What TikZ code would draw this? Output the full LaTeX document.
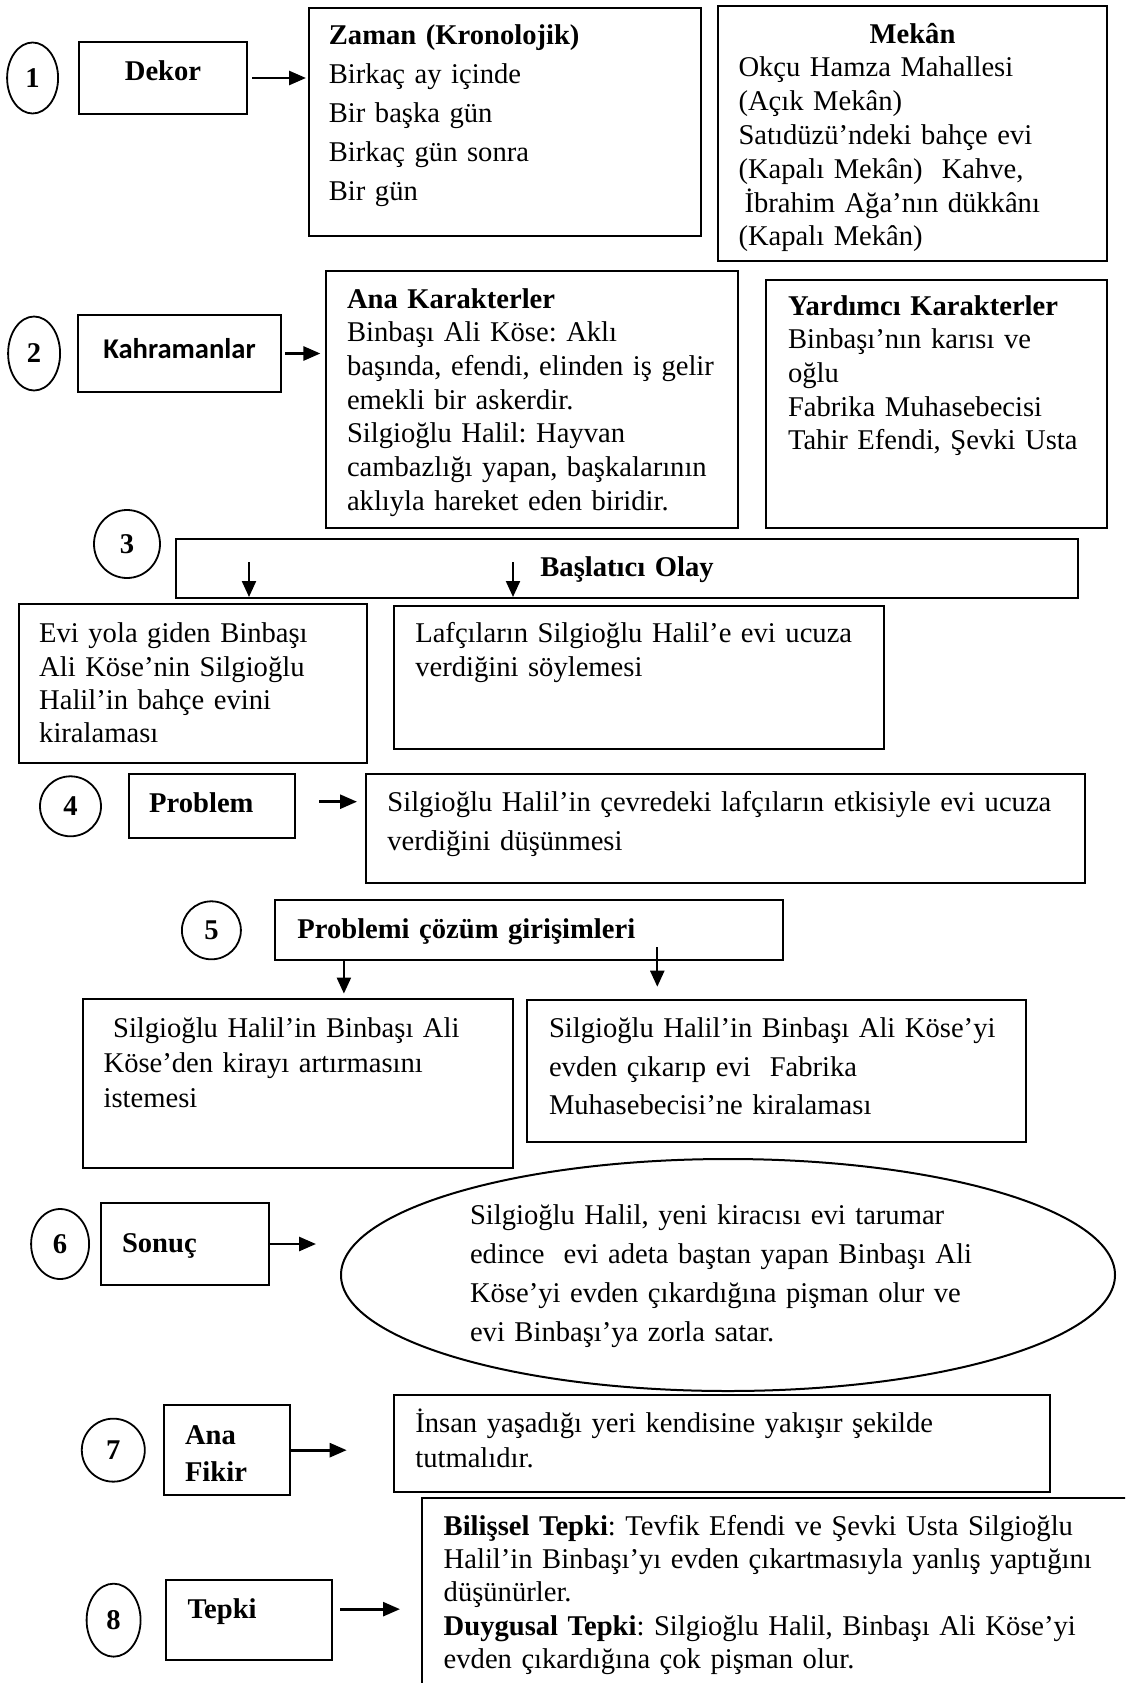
\documentclass[tikz,border=0pt]{standalone}
\usepackage{fontspec}
\setmainfont{Liberation Serif}
\newfontfamily\calibri{Carlito}
\usepackage{tikz}
\usetikzlibrary{shapes, arrows.meta, positioning}
\newcommand{\txtsize}[1]{\fontsize{28.6pt}{#1pt}\selectfont\frenchspacing}

\begin{document}
\begin{tikzpicture}[
            x=1pt, y=-1pt,
            font=\txtsize{33.8},
            box/.style={rectangle, draw, line width=2pt, anchor=north west, inner ysep=0pt, align=left,
                        execute at begin node={\rightskip=0pt plus 1fil minus 40pt}},
            lbl/.style={box, font=\txtsize{36.7}\bfseries},
            ctr/.style={rectangle, draw, line width=2pt, anchor=north west, inner ysep=0pt, inner xsep=10pt, align=center,
                        font=\txtsize{36.7}\bfseries},
            num/.style={ellipse, draw, line width=1.8pt, inner sep=0pt, font=\txtsize{33.8}\bfseries},
            arrow/.style={line width=2.7pt, -{Triangle[length=17pt, width=14pt]}},
            down/.style={line width=2.2pt, -{Triangle[length=16pt, width=14pt]}}
        ]
            \useasboundingbox (0,0) rectangle (1125,1683);
            \clip (0,0) rectangle (1125,1683);

            \node[ctr, text width=148pt, text height=39.3pt, text depth=33.3pt] (dekor) at (78,40.7) {Dekor};
            \node[num, minimum width=51pt, minimum height=71pt, left=19pt of dekor] (n1) {1};
            \node[box, font=\txtsize{38.9}, inner xsep=20.4pt, text width=351.7pt, text height=36.1pt, text depth=191.4pt] (zaman) at (307.5,7.5)
                {\textbf{Zaman (Kronolojik)}\\Birkaç ay içinde\\Bir başka gün\\Birkaç gün sonra\\Bir gün};
            \node[box, inner xsep=20.5pt, text width=348pt, text height=36.8pt, text depth=217.3pt] (mekan) at (717,5.4)
                {\hfill\textbf{Mekân}\hfill\null\\Okçu Hamza Mahallesi\\(Açık Mekân)\\Satıdüzü’ndeki bahçe evi\\(Kapalı Mekân)\ \ Kahve,\\\hspace*{6pt}İbrahim Ağa’nın dükkânı\\(Kapalı Mekân)};

            \node[ctr, font=\txtsize{36}\calibri\bfseries, text width=183pt, text height=43pt, text depth=34pt] (kahr) at (77,314) {Kahramanlar};
            \node[num, minimum width=52pt, minimum height=74pt, left=16pt of kahr] (n2) {2};
            \node[box, font=\txtsize{33.7}, inner xsep=21pt, text width=370pt, text height=37.5pt, text depth=220pt] (ana) at (325,269.5)
                {\textbf{Ana Karakterler}\\Binbaşı Ali Köse: Aklı\\başında, efendi, elinden iş gelir\\emekli bir askerdir.\\Silgioğlu Halil: Hayvan\\cambazlığı yapan, başkalarının\\aklıyla hareket eden biridir.};
            \node[box, font=\txtsize{33.6}, inner xsep=22pt, text width=297pt, text height=35.7pt, text depth=212.7pt] (yard) at (765,278.6)
                {\textbf{Yardımcı Karakterler}\\Binbaşı’nın karısı ve\\oğlu\\Fabrika Muhasebecisi\\Tahir Efendi, Şevki Usta};

            \node[ctr, text width=882pt, text height=37.2pt, text depth=21.5pt] (olay) at (175,538.3) {Başlatıcı Olay};
            \node[num, minimum width=66pt, minimum height=68pt] (n3) at (127,544) {3};
            \node[box, font=\txtsize{33.3}, inner xsep=20.2pt, text width=307.6pt, text height=39pt, text depth=120pt] (evi) at (18,602.7)
                {Evi yola giden Binbaşı\\Ali Köse’nin Silgioğlu\\Halil’in bahçe evini\\kiralaması};
            \node[box, font=\txtsize{33.5}, inner xsep=21.3pt, text width=446.9pt, text height=36.7pt, text depth=106pt] (laf) at (393,605)
                {Lafçıların Silgioğlu Halil’e evi ucuza\\verdiğini söylemesi};

            \node[lbl, inner xsep=20.7pt, text width=125.1pt, text height=38.4pt, text depth=25.6pt] (prob) at (127.5,773.3) {Problem};
            \node[num, minimum width=61pt, minimum height=60pt, left=25.6pt of prob] (n4) {4};
            \node[box, font=\txtsize{38.5}, inner xsep=21.4pt, text width=676.2pt, text height=37.4pt, text depth=71.6pt] (probtxt) at (365,773.3)
                {Silgioğlu Halil’in çevredeki lafçıların etkisiyle evi ucuza\\verdiğini düşünmesi};

            \node[lbl, inner xsep=22.1pt, text width=463pt, text height=38pt, text depth=22pt] (cozum) at (274.3,899.3) {Problemi çözüm girişimleri};
            \node[num, minimum width=59pt, minimum height=58pt, left=32.5pt of cozum] (n5) {5};
            \node[box, font=\txtsize{35.3}, inner xsep=21pt, text width=388.4pt, text height=38pt, text depth=130.7pt] (sol1) at (81.6,998.3)
                {\ Silgioğlu Halil’in Binbaşı Ali\\Köse’den kirayı artırmasını\\istemesi};
            \node[box, font=\txtsize{38.8}, inner xsep=22pt, text width=455pt, text height=37.3pt, text depth=105pt] (sol2) at (526,999)
                {Silgioğlu Halil’in Binbaşı Ali Köse’yi\\evden çıkarıp evi\ \ Fabrika\\Muhasebecisi’ne kiralaması};

            \node[lbl, inner xsep=21.2pt, text width=126.2pt, text height=49pt, text depth=33pt] (sonuc) at (99.8,1202) {Sonuç};
            \node[num, minimum width=58pt, minimum height=70pt, left=9.8pt of sonuc] (n6) {6};
            \node[ellipse, draw, line width=2pt, inner sep=0pt, minimum width=774pt, minimum height=232pt, align=left,
                  text width=516pt, text height=27pt, text depth=129pt, font=\txtsize{39}] (sonuctxt) at (728,1275)
                {Silgioğlu Halil, yeni kiracısı evi tarumar\\edince\ \ evi adeta baştan yapan Binbaşı Ali\\Köse’yi evden çıkardığına pişman olur ve\\evi Binbaşı’ya zorla satar.};

            \node[lbl, inner xsep=21.3pt, text width=84pt, text height=39.3pt, text depth=51pt] (anafikir) at (162.7,1404) {Ana\\Fikir};
            \node[num, minimum width=63pt, minimum height=63pt, left=17pt of anafikir] (n7) {7};
            \node[box, font=\txtsize{34.5}, inner xsep=21.6pt, text width=613.1pt, text height=37.7pt, text depth=59.3pt] (fikir) at (392.7,1394)
                {İnsan yaşadığı yeri kendisine yakışır şekilde\\tutmalıdır.};

            \node[lbl, inner xsep=22pt, text width=122.6pt, text height=38.3pt, text depth=42pt] (tepki) at (164.7,1579) {Tepki};
            \node[num, minimum width=54pt, minimum height=73pt, left=23.2pt of tepki] (n8) {8};
            \node[box, font=\txtsize{33.4}, inner xsep=22pt, text width=695.3pt, text height=37.3pt, text depth=166pt] (tepkitxt) at (420.7,1496.7)
                {\textbf{Bilişsel Tepki}: Tevfik Efendi ve Şevki Usta Silgioğlu\\Halil’in Binbaşı’yı evden çıkartmasıyla yanlış yaptığını\\düşünürler.\\\textbf{Duygusal Tepki}: Silgioğlu Halil, Binbaşı Ali Köse’yi\\evden çıkardığına çok pişman olur.};

            \draw[arrow, shorten <=4pt, shorten >=1.5pt] (dekor.east) -- (dekor.east -| zaman.west);
            \draw[arrow, shorten <=3pt, shorten >=4.6pt] (kahr.east) -- (kahr.east -| ana.west);
            \draw[down, shorten >=5.7pt] ([xshift=74pt, yshift=37pt]olay.south west) -- ([xshift=74pt]olay.south west |- evi.north);
            \draw[down, shorten >=8pt] ([xshift=338pt, yshift=37pt]olay.south west) -- ([xshift=338pt]olay.south west |- laf.north);
            \draw[arrow, shorten <=23pt, shorten >=8pt] ([yshift=4.6pt]prob.east) -- ([yshift=4.6pt]prob.east -| probtxt.west);
            \draw[down, shorten >=4.7pt] ([xshift=69.6pt]cozum.south west) -- ([xshift=69.6pt]cozum.south west |- sol1.north);
            \draw[down, shorten >=12.3pt] ([xshift=383pt, yshift=14.3pt]cozum.south west) -- ([xshift=383pt]cozum.south west |- sol2.north);
            \draw[arrow, shorten >=24pt] (sonuc.east) -- (sonuc.east -| sonuctxt.west);
            \draw[arrow, shorten >=46pt] (anafikir.east) -- (anafikir.east -| fikir.west);
            \draw[arrow, shorten <=7pt, shorten >=20.7pt] ([yshift=11pt]tepki.east) -- ([yshift=11pt]tepki.east -| tepkitxt.west);
        \end{tikzpicture}
\end{document}
